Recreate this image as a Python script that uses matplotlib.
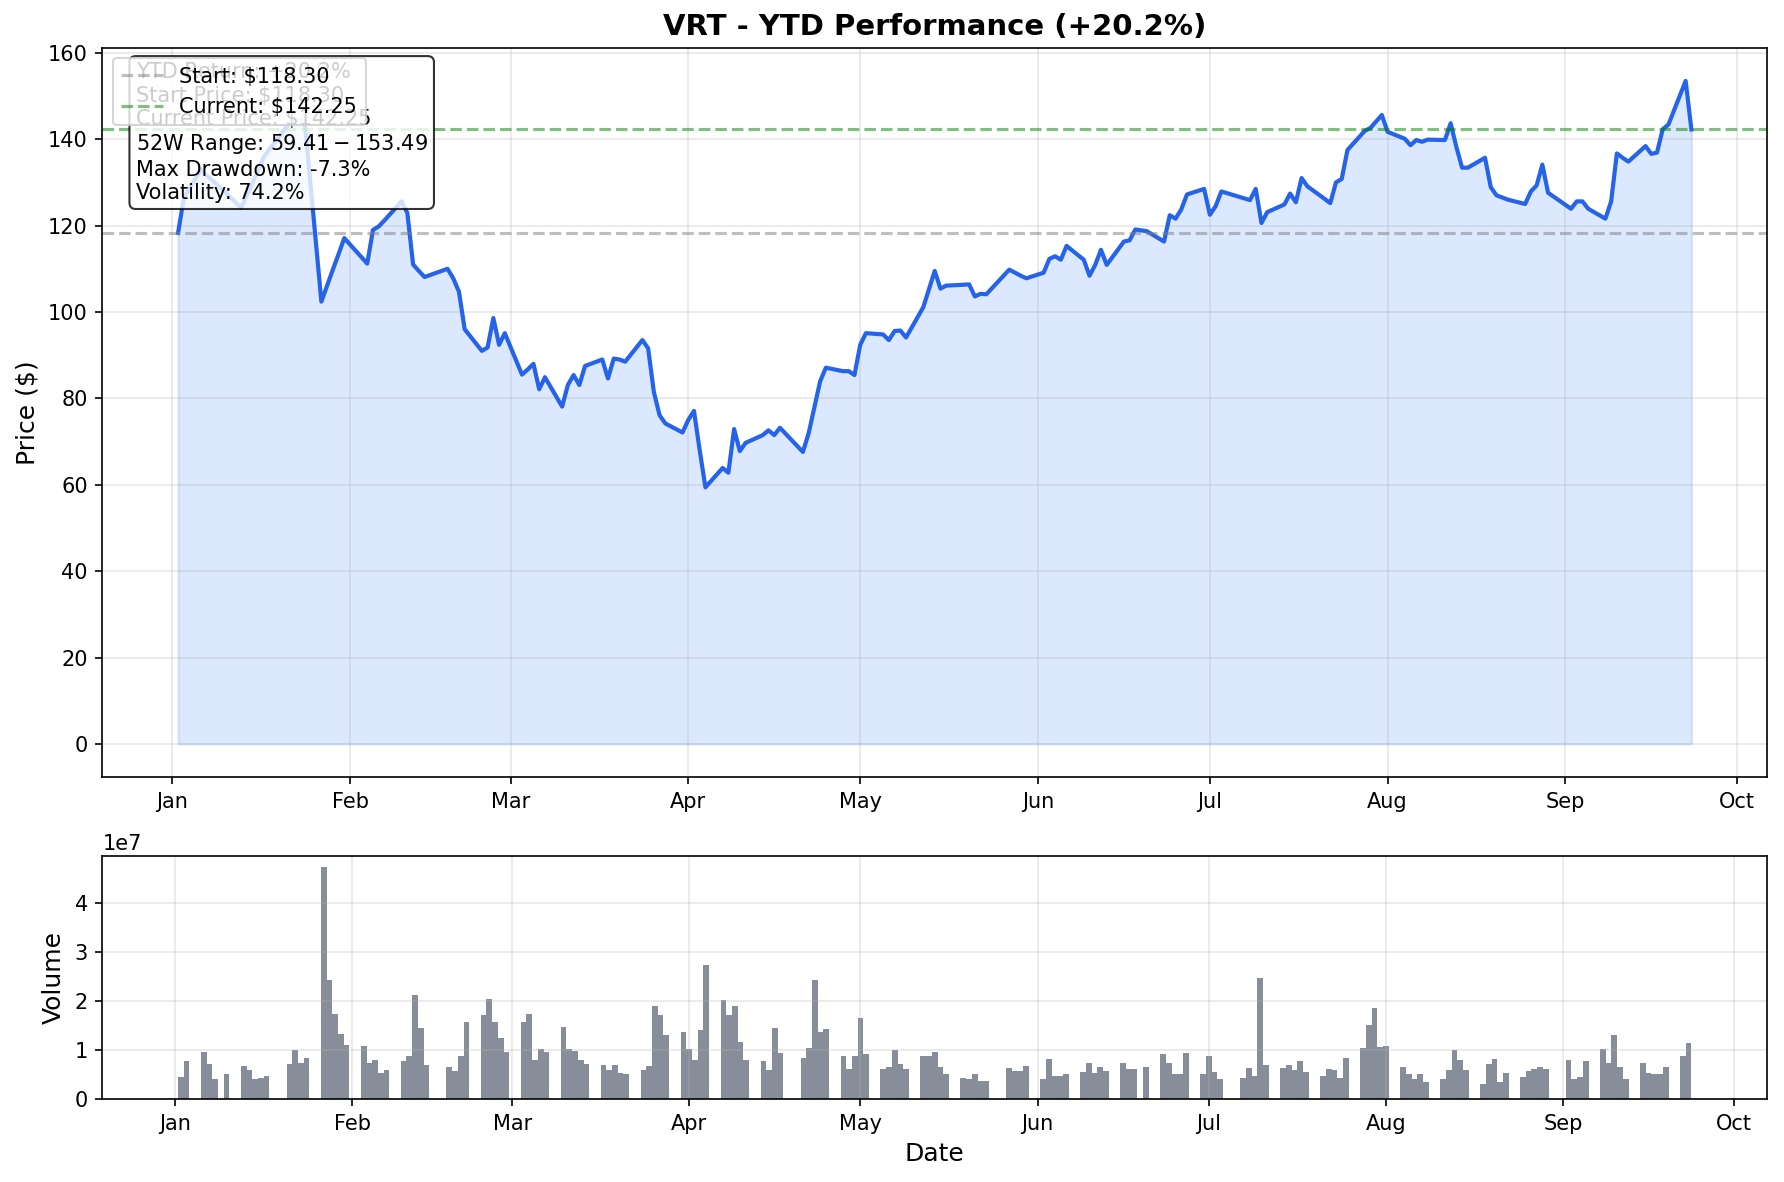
"""VRT year-to-date price and volume chart."""

import matplotlib
matplotlib.use("Agg")
import matplotlib.dates as mdates
import matplotlib.pyplot as plt
import numpy as np
import pandas as pd

TICKER = "VRT"

# NYSE closures inside the window (weekends are skipped by bdate_range)
HOLIDAYS = ["2025-01-09", "2025-01-20", "2025-02-17", "2025-04-18",
            "2025-05-26", "2025-06-19", "2025-07-04", "2025-09-01"]

# closing prices, one per trading day, month by month
jan_close = [118.30, 126.4, 133.0, 131.5, 130.5, 128.0, 124.1, 127.0, 130.0, 133.0,
             136.0, 143.0, 145.0, 144.0, 145.5, 102.4, 106.1, 109.8, 113.4, 117.1]
feb_close = [112.7, 111.2, 119.0, 119.8, 121.2, 125.6, 122.9, 111.0, 109.5, 108.1,
             110.0, 107.8, 104.7, 96.0, 91.0, 91.8, 98.6, 92.4, 95.1]
mar_close = [85.5, 86.7, 88.0, 82.1, 84.9, 78.1, 83.1, 85.4, 83.1, 87.5,
             89.0, 84.6, 89.2, 89.0, 88.5, 93.5, 91.6, 81.5, 76.1, 74.2, 72.1]
apr_close = [75.0, 77.1, 68.0, 59.41, 63.9, 62.8, 72.9, 67.8, 69.7, 71.5,
             72.6, 71.5, 73.2, 67.6, 71.9, 77.9, 83.9, 87.1, 86.3, 86.3, 85.4]
may_close = [92.4, 95.1, 94.8, 93.5, 95.6, 95.7, 94.1, 101.1, 105.3, 109.5,
             105.4, 106.1, 106.3, 106.4, 103.6, 104.2, 104.1, 109.8, 109.1, 108.4, 107.8]
jun_close = [109.1, 112.3, 112.9, 112.1, 115.3, 112.1, 108.4, 110.9, 114.4, 110.9,
             116.3, 116.6, 119.1, 118.7, 116.3, 122.4, 121.6, 123.7, 127.2, 128.5]
jul_close = [122.5, 124.5, 127.9, 126.3, 125.9, 128.5, 120.6, 123.1, 124.9, 127.4, 125.4,
             131.0, 129.1, 126.2, 125.2, 130.0, 130.8, 137.5, 141.9, 142.6, 144.1, 145.6]
aug_close = [141.7, 140.1, 138.6, 139.8, 139.4, 139.9, 139.8, 143.7, 138.2, 133.4, 133.4,
             135.7, 128.9, 127.0, 126.5, 126.0, 125.0, 127.9, 129.3, 134.1, 127.6]
sep_close = [123.9, 125.6, 125.6, 123.9, 121.6, 125.6, 136.7, 135.7, 134.8,
             138.4, 136.6, 136.9, 142.3, 143.4, 153.49, 142.25]

# daily volume, in units of 1e7 shares
jan_vol = [0.457, 0.765, 0.95, 0.72, 0.40, 0.50, 0.68, 0.60, 0.416, 0.437,
           0.478, 0.72, 0.99, 0.744, 0.846, 4.72, 2.42, 1.73, 1.32, 1.11]
feb_vol = [1.09, 0.744, 0.805, 0.54, 0.60, 0.765, 0.887, 2.12, 1.44, 0.70,
           0.66, 0.58, 0.887, 1.56, 1.71, 2.03, 1.58, 1.24, 0.95]
mar_vol = [1.56, 1.73, 0.805, 1.01, 0.95, 1.46, 1.01, 0.97, 0.805, 0.72,
           0.70, 0.60, 0.70, 0.54, 0.52, 0.60, 0.68, 1.89, 1.71, 1.30, 1.36]
apr_vol = [1.01, 0.805, 1.40, 2.73, 2.01, 1.71, 1.89, 1.17, 0.805, 0.785,
           0.60, 1.44, 0.93, 0.846, 1.03, 2.42, 1.36, 1.42, 0.867, 0.62, 0.887]
may_vol = [1.645, 0.908, 0.62, 0.66, 0.99, 0.72, 0.62, 0.887, 0.887, 0.95,
           0.66, 0.50, 0.437, 0.40, 0.52, 0.375, 0.375, 0.64, 0.58, 0.58, 0.68]
jun_vol = [0.40, 0.826, 0.478, 0.478, 0.52, 0.56, 0.744, 0.54, 0.66, 0.58,
           0.744, 0.62, 0.62, 0.66, 0.908, 0.744, 0.52, 0.52, 0.93, 0.52]
jul_vol = [0.887, 0.56, 0.40, 0.437, 0.64, 0.478, 2.46, 0.70, 0.64, 0.70, 0.60,
           0.785, 0.56, 0.478, 0.62, 0.60, 0.437, 0.846, 1.05, 1.50, 1.85, 1.07]
aug_vol = [1.09, 0.66, 0.50, 0.40, 0.52, 0.355, 0.40, 0.60, 0.99, 0.805, 0.60,
           0.314, 0.72, 0.826, 0.355, 0.54, 0.457, 0.58, 0.62, 0.66, 0.62]
sep_vol = [0.805, 0.40, 0.457, 0.765, 1.01, 0.744, 1.30, 0.66, 0.40,
           0.744, 0.54, 0.50, 0.52, 0.66, 0.867, 1.15]

# figures quoted in the stats box
MAX_DRAWDOWN = -7.3
VOLATILITY = 74.2

_LINE_COLOR = "#2563EB"
_FILL_COLOR = "#3B82F6"
_BAR_COLOR = "#6B7280"


def load_series():
    days = pd.bdate_range("2025-01-02", "2025-09-23")
    days = days[~days.isin(pd.to_datetime(HOLIDAYS))]
    close = np.array(jan_close + feb_close + mar_close + apr_close + may_close
                     + jun_close + jul_close + aug_close + sep_close)
    volume = np.array(jan_vol + feb_vol + mar_vol + apr_vol + may_vol
                      + jun_vol + jul_vol + aug_vol + sep_vol) * 1e7
    return days, close, volume


def main():
    dates, close, volume = load_series()
    start, current = close[0], close[-1]
    ytd = (current / start - 1) * 100

    fig, (ax1, ax2) = plt.subplots(
        2, 1, figsize=(1784 / 150, 1182 / 150), dpi=150,
        gridspec_kw={"height_ratios": [3, 1]},
    )
    fig.subplots_adjust(left=0.0574, right=0.9905, top=0.9596, bottom=0.0702, hspace=0.162)

    # price panel
    ax1.plot(dates, close, color=_LINE_COLOR, linewidth=2)
    ax1.fill_between(dates, close, alpha=0.18, color=_FILL_COLOR)
    ax1.axhline(start, color="gray", linestyle="--", alpha=0.5, label=f"Start: ${start:.2f}")
    ax1.axhline(current, color="green", linestyle="--", alpha=0.5, label=f"Current: ${current:.2f}")
    ax1.set_title(f"{TICKER} - YTD Performance ({ytd:+.1f}%)", fontsize=14, fontweight="bold")
    ax1.set_ylabel("Price ($)", fontsize=12)
    ax1.grid(True, alpha=0.3)

    stats = (
        f"YTD Return: {ytd:+.1f}%\n"
        f"Start Price: ${start:.2f}\n"
        f"Current Price: ${current:.2f}\n"
        f"52W Range: ${close.min():.2f} - ${close.max():.2f}\n"
        f"Max Drawdown: {MAX_DRAWDOWN:.1f}%\n"
        f"Volatility: {VOLATILITY:.1f}%"
    )
    ax1.text(0.02, 0.98, stats, transform=ax1.transAxes, fontsize=10, va="top",
             bbox=dict(boxstyle="round", facecolor="white", alpha=0.8))
    ax1.legend(loc="upper left")

    # volume panel
    ax2.bar(dates, volume, width=1, color=_BAR_COLOR, alpha=0.8)
    ax2.set_ylabel("Volume", fontsize=12)
    ax2.set_xlabel("Date", fontsize=12)
    ax2.grid(True, alpha=0.3)

    for ax in (ax1, ax2):
        ax.xaxis.set_major_locator(mdates.MonthLocator())
        ax.xaxis.set_major_formatter(mdates.DateFormatter("%b"))

    fig.savefig("out.png", dpi=150)


if __name__ == "__main__":
    main()
